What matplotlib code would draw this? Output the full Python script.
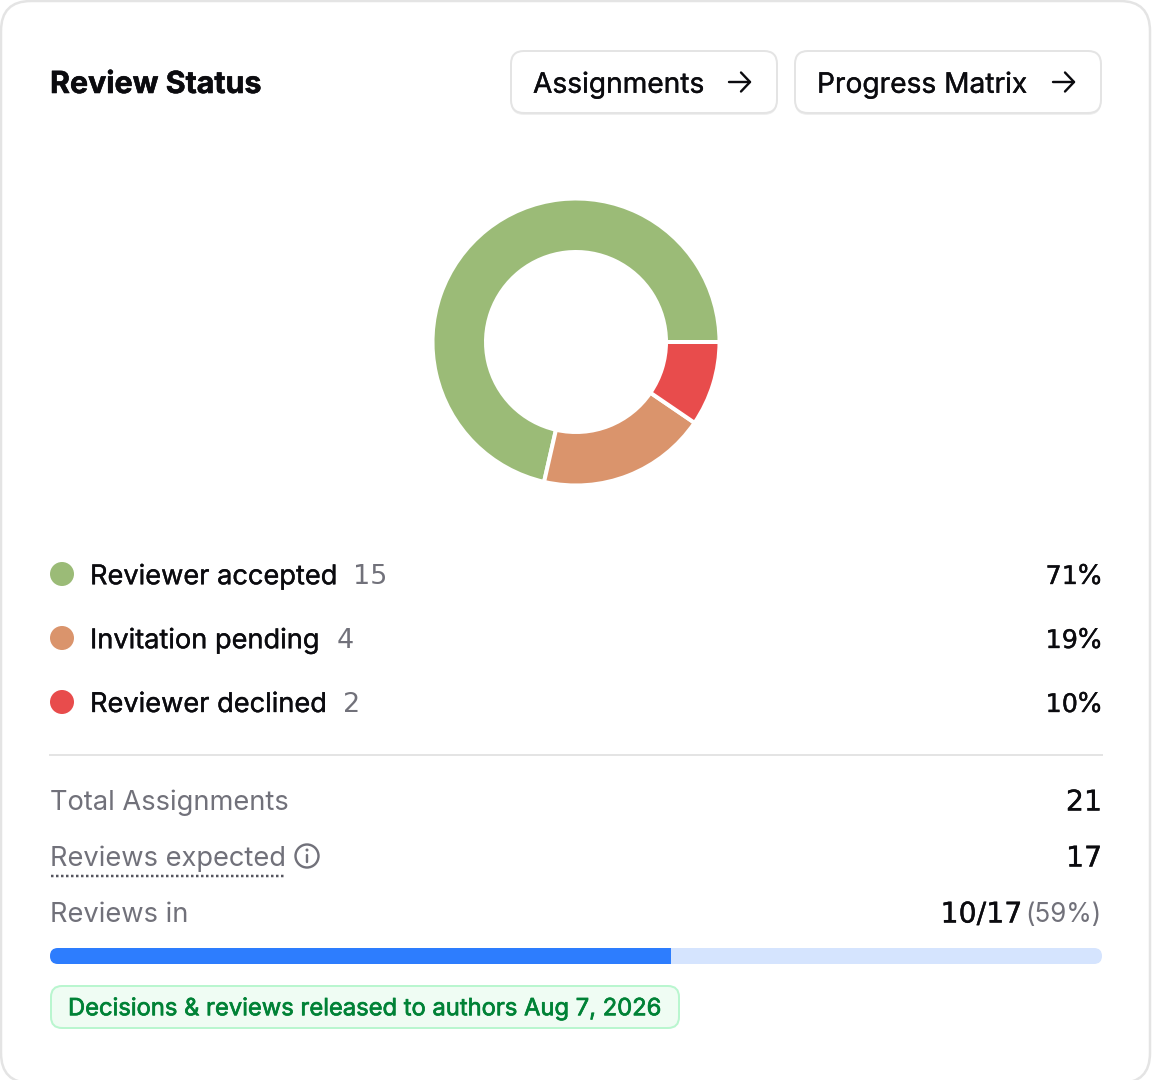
import matplotlib
matplotlib.use("Agg")
import matplotlib.pyplot as plt
import matplotlib.patheffects as pe
from matplotlib.patches import FancyBboxPatch, Circle
from matplotlib.transforms import IdentityTransform, ScaledTranslation

plt.rcParams['font.family'] = ['Inter', 'DejaVu Sans']

# data
status_labels = ['Reviewer accepted', 'Invitation pending', 'Reviewer declined']
status_counts = [15, 4, 2]
status_pcts = [71, 19, 10]
status_colors = ['#9BBB77', '#DA946C', '#E84C4C']
button_labels = ['Assignments', 'Progress Matrix']
stat_labels = ['Total Assignments', 'Reviews expected', 'Reviews in']
stat_values = ['21', '17', '10/17']
reviews_pct = 59

W, H = 1152, 1080
INK = '#0B0B0F'
GREY = '#71717A'
NUM_FONT = 'DejaVu Sans'  # closest to the flag-and-foot 1 in the tabular digits

fig = plt.figure(figsize=(W / 100, H / 100), dpi=100, facecolor='white')


def px(size):
    # css pixels to points at this dpi
    return size * 0.72


def heavy(color, amount=0.25):
    # Inter only comes in regular/bold here, thicken a little
    return [pe.withStroke(linewidth=amount, foreground=color)]


# full-figure axes working in pixel coordinates
ax = fig.add_axes([0, 0, 1, 1])
ax.set_xlim(0, W)
ax.set_ylim(H, 0)
ax.axis('off')


def box(x0, y0, x1, y1, r, fc, ec, lw=2, z=1):
    p = FancyBboxPatch((x0 + r, y0 + r), x1 - x0 - 2 * r, y1 - y0 - 2 * r,
                       boxstyle=f'round,pad={r},rounding_size={r}',
                       fc=fc, ec=ec, lw=px(lw), zorder=z)
    ax.add_patch(p)
    return p


def arrow(x0, y):
    ax.plot([x0, x0 + 21], [y, y], color=INK, lw=px(2.4), solid_capstyle='round', zorder=4)
    ax.plot([x0 + 12, x0 + 21, x0 + 12], [y - 9.5, y, y + 9.5], color=INK, lw=px(2.4),
            solid_capstyle='round', solid_joinstyle='round', zorder=4)


# card, its bottom edge runs off the image
box(1, 1, 1150, 1083, 30, 'white', '#E4E4E4', lw=2.5)

ax.text(50, 82, 'Review Status', fontsize=px(30.4), fontweight='bold', color=INK,
        va='center_baseline', ha='left', path_effects=heavy(INK, 0.4))

# header buttons
button_x = [(511, 777), (795, 1101)]
arrow_x = [729, 1053]
for (x0, x1), lab, ax_ in zip(button_x, button_labels, arrow_x):
    box(x0, 53, x1, 115, 13, '#EFEFEF', 'none', lw=0, z=1)
    box(x0, 51, x1, 113, 13, 'white', '#E4E4E4', lw=2, z=2)
    ax.text(x0 + 22, 82, lab, fontsize=px(28.1), color=INK, va='center_baseline', ha='left', zorder=4,
            path_effects=heavy(INK))
    arrow(ax_, 82)

# donut
R = 143.5
pie_ax = fig.add_axes([(576 - R) / W, 1 - (342 + R) / H, 2 * R / W, 2 * R / H])
pie_ax.pie(status_counts, colors=status_colors, startangle=0, radius=1,
           wedgeprops=dict(width=(R - 90) / R, edgecolor='white', linewidth=px(4)))
pie_ax.set_xlim(-1, 1)
pie_ax.set_ylim(-1, 1)

# legend rows
row_y = [574, 638, 702]
count_x = [353, 337, 343]
for y, lab, n, pct, col, cx in zip(row_y, status_labels, status_counts, status_pcts, status_colors, count_x):
    ax.add_patch(Circle((62, y), 12, fc=col, ec='none'))
    ax.text(90, y, lab, fontsize=px(27.2), color=INK, va='center_baseline', ha='left', path_effects=heavy(INK))
    ax.text(cx, y, str(n), fontsize=px(27), color=GREY, family=NUM_FONT, va='center_baseline', ha='left')
    ax.text(1078, y, str(pct), fontsize=px(25.5), color=INK, family=NUM_FONT, va='center_baseline', ha='right',
            path_effects=heavy(INK))
    ax.text(1103, y, '%', fontsize=px(27.2), color=INK, va='center_baseline', ha='right', path_effects=heavy(INK))

ax.plot([50, 1102], [755, 755], color='#E4E4E4', lw=px(2))

# stats
stat_y = [800, 856, 912]
for y, lab, val in zip(stat_y, stat_labels, stat_values):
    ax.text(50, y, lab, fontsize=px(27.3), color=GREY, va='center_baseline', ha='left')
    ax.text(1102 if val != stat_values[2] else 1022, y - 0.5, val, fontsize=px(28.4), color=INK, family=NUM_FONT,
            va='center_baseline', ha='right', path_effects=heavy(INK))
ax.text(1102, stat_y[2], f'({reviews_pct}%)', fontsize=px(26), color=GREY, va='center_baseline', ha='right')

# dotted underline + info icon
ax.plot([51, 285], [875.5, 875.5], color='#55555E', lw=px(2.5), linestyle=(0, (1, 1)))
ax.add_patch(Circle((307, 856), 11.5, fc='none', ec=GREY, lw=px(2.4)))
ax.plot([307, 307], [855, 862], color=GREY, lw=px(2.4), solid_capstyle='round')
ax.add_patch(Circle((307, 850), 1.5, fc=GREY, ec='none'))

# progress bar
bar_ax = fig.add_axes([50 / W, 1 - 964 / H, 1052 / W, 16 / H])
bar_ax.set_xlim(0, 100)
bar_ax.set_ylim(0, 1)
bar_ax.axis('off')
track = bar_ax.barh(0.5, 100, height=1, color='#D5E4FE')[0]
fill = bar_ax.barh(0.5, reviews_pct, height=1, color='#2D7DFE')[0]
clip = FancyBboxPatch((8, 8), 1036, 0, boxstyle='round,pad=8,rounding_size=8', fc='none', ec='none')
# clip in display coordinates of the bar axes
clip.set_transform(ScaledTranslation(50, H - 964, IdentityTransform()))
track.set_clip_path(clip)
fill.set_clip_path(clip)

# release notice
box(51, 986, 679, 1028, 11, '#EFFCF3', '#B9F6CF', lw=2)
ax.text(68, 1006.5, 'Decisions & reviews released to authors Aug 7, 2026', fontsize=px(23.75),
        color='#008236', va='center_baseline', ha='left', zorder=3, path_effects=heavy('#008236', 0.5))

fig.savefig('out.png', dpi=100, facecolor='white')
